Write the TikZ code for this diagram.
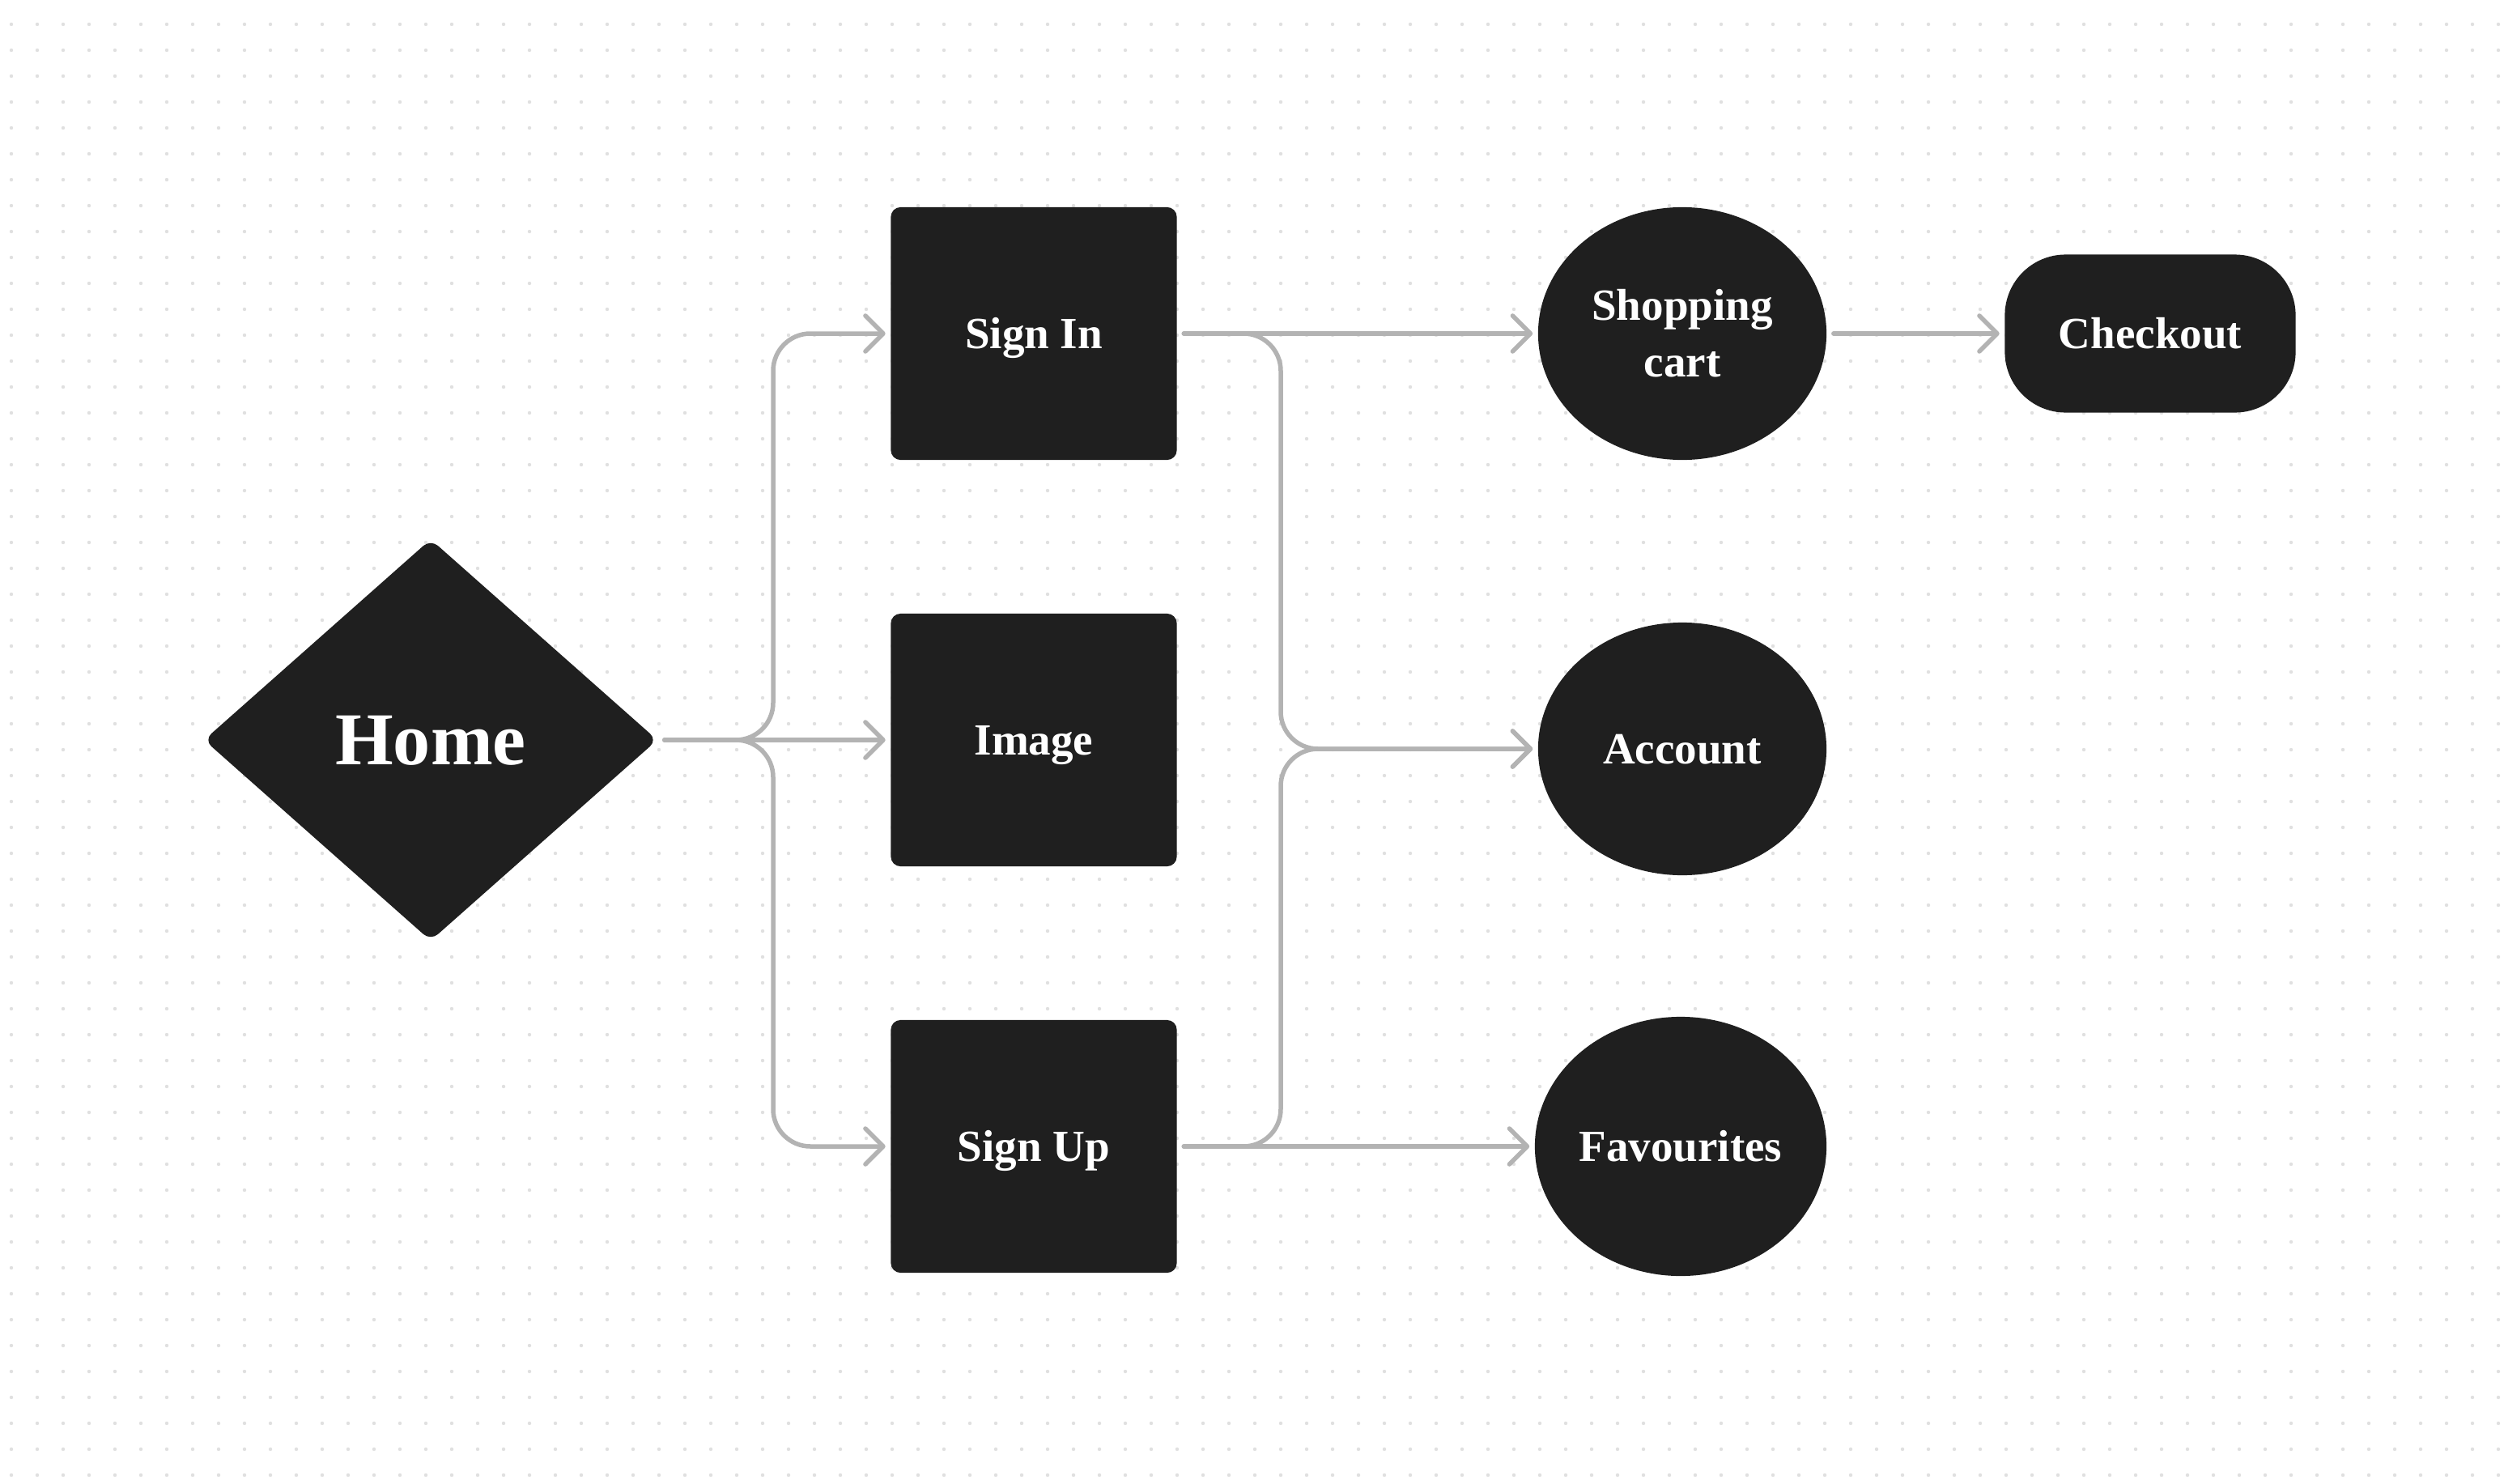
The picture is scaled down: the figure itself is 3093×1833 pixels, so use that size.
\documentclass[tikz,border=0pt]{standalone}
\usepackage{fontspec}
\setmainfont{Liberation Serif}
\usetikzlibrary{shapes.geometric,arrows.meta}
\definecolor{ink}{HTML}{1F1F1F}
\definecolor{wire}{HTML}{B3B3B3}
\definecolor{grain}{HTML}{E0E0E0}

\begin{document}
\begin{tikzpicture}[x=0.01cm,y=-0.01cm,
  block/.style={fill=ink,text=white,inner sep=0pt,
    font=\bfseries\fontsize{15.65}{19.9}\selectfont},
  capline/.style={text height=0.36cm,text depth=0pt},
  page/.style={block,capline,rectangle,rounded corners=0.12cm,
    minimum width=3.53cm,minimum height=3.12cm},
  oval/.style={block,ellipse,minimum width=3.56cm,minimum height=3.12cm},
  pill/.style={block,capline,rectangle,rounded corners=0.75cm,
    minimum width=3.59cm,minimum height=1.95cm},
  choice/.style={block,diamond,rounded corners=0.12cm,
    minimum width=5.6cm,minimum height=4.96cm,
    font=\bfseries\fontsize{26.2}{30}\selectfont,
    text height=0.61cm,text depth=0pt},
  link/.style={draw=wire,line width=0.055cm,line cap=round,
    rounded corners=0.46cm,shorten <=0.08cm,shorten >=0.06cm,
    -{Straight Barb[length=0.22cm,width=0.44cm,round]}}]
% dotted canvas
\fill[white] (0,0) rectangle (3093,1833);
\foreach \i in {0,...,96}
  \foreach \j in {0,...,56}
    \fill[grain] (14+32*\i,30+32*\j) circle (0.022cm);

\node (home) at (532,914) [choice] {Home};
\node (signin) at (1277,412) [page] {Sign In};
\node (image) at (1277,914) [page] {Image};
\node (signup) at (1277,1416) [page] {Sign Up};
\node (cart) at (2078,412) [oval,align=center] {Shopping\\cart};
\node (account) at (2078,925) [oval,capline] {Account};
\node (fav) at (2076,1416) [oval,capline,
  minimum width=3.6cm,minimum height=3.2cm] {Favourites};
\node (checkout) at (2656,412) [pill] {Checkout};

\coordinate (lbus) at (955,914);
\coordinate (rbus) at (1582,914);

\draw[link] (home.east) -- (home.east -| lbus) |- (signin.west);
\draw[link] (home.east) -- (image.west);
\draw[link] (home.east) -- (home.east -| lbus) |- (signup.west);
\draw[link] (signin.east) -- (cart.west);
\draw[link] (signin.east) -- (signin.east -| rbus) |- (account.west);
\draw[link] (signup.east) -- (signup.east -| rbus) |- (account.west);
\draw[link] (signup.east) -- (fav.west);
\draw[link] (cart.east) -- (checkout.west);
\end{tikzpicture}
\end{document}
